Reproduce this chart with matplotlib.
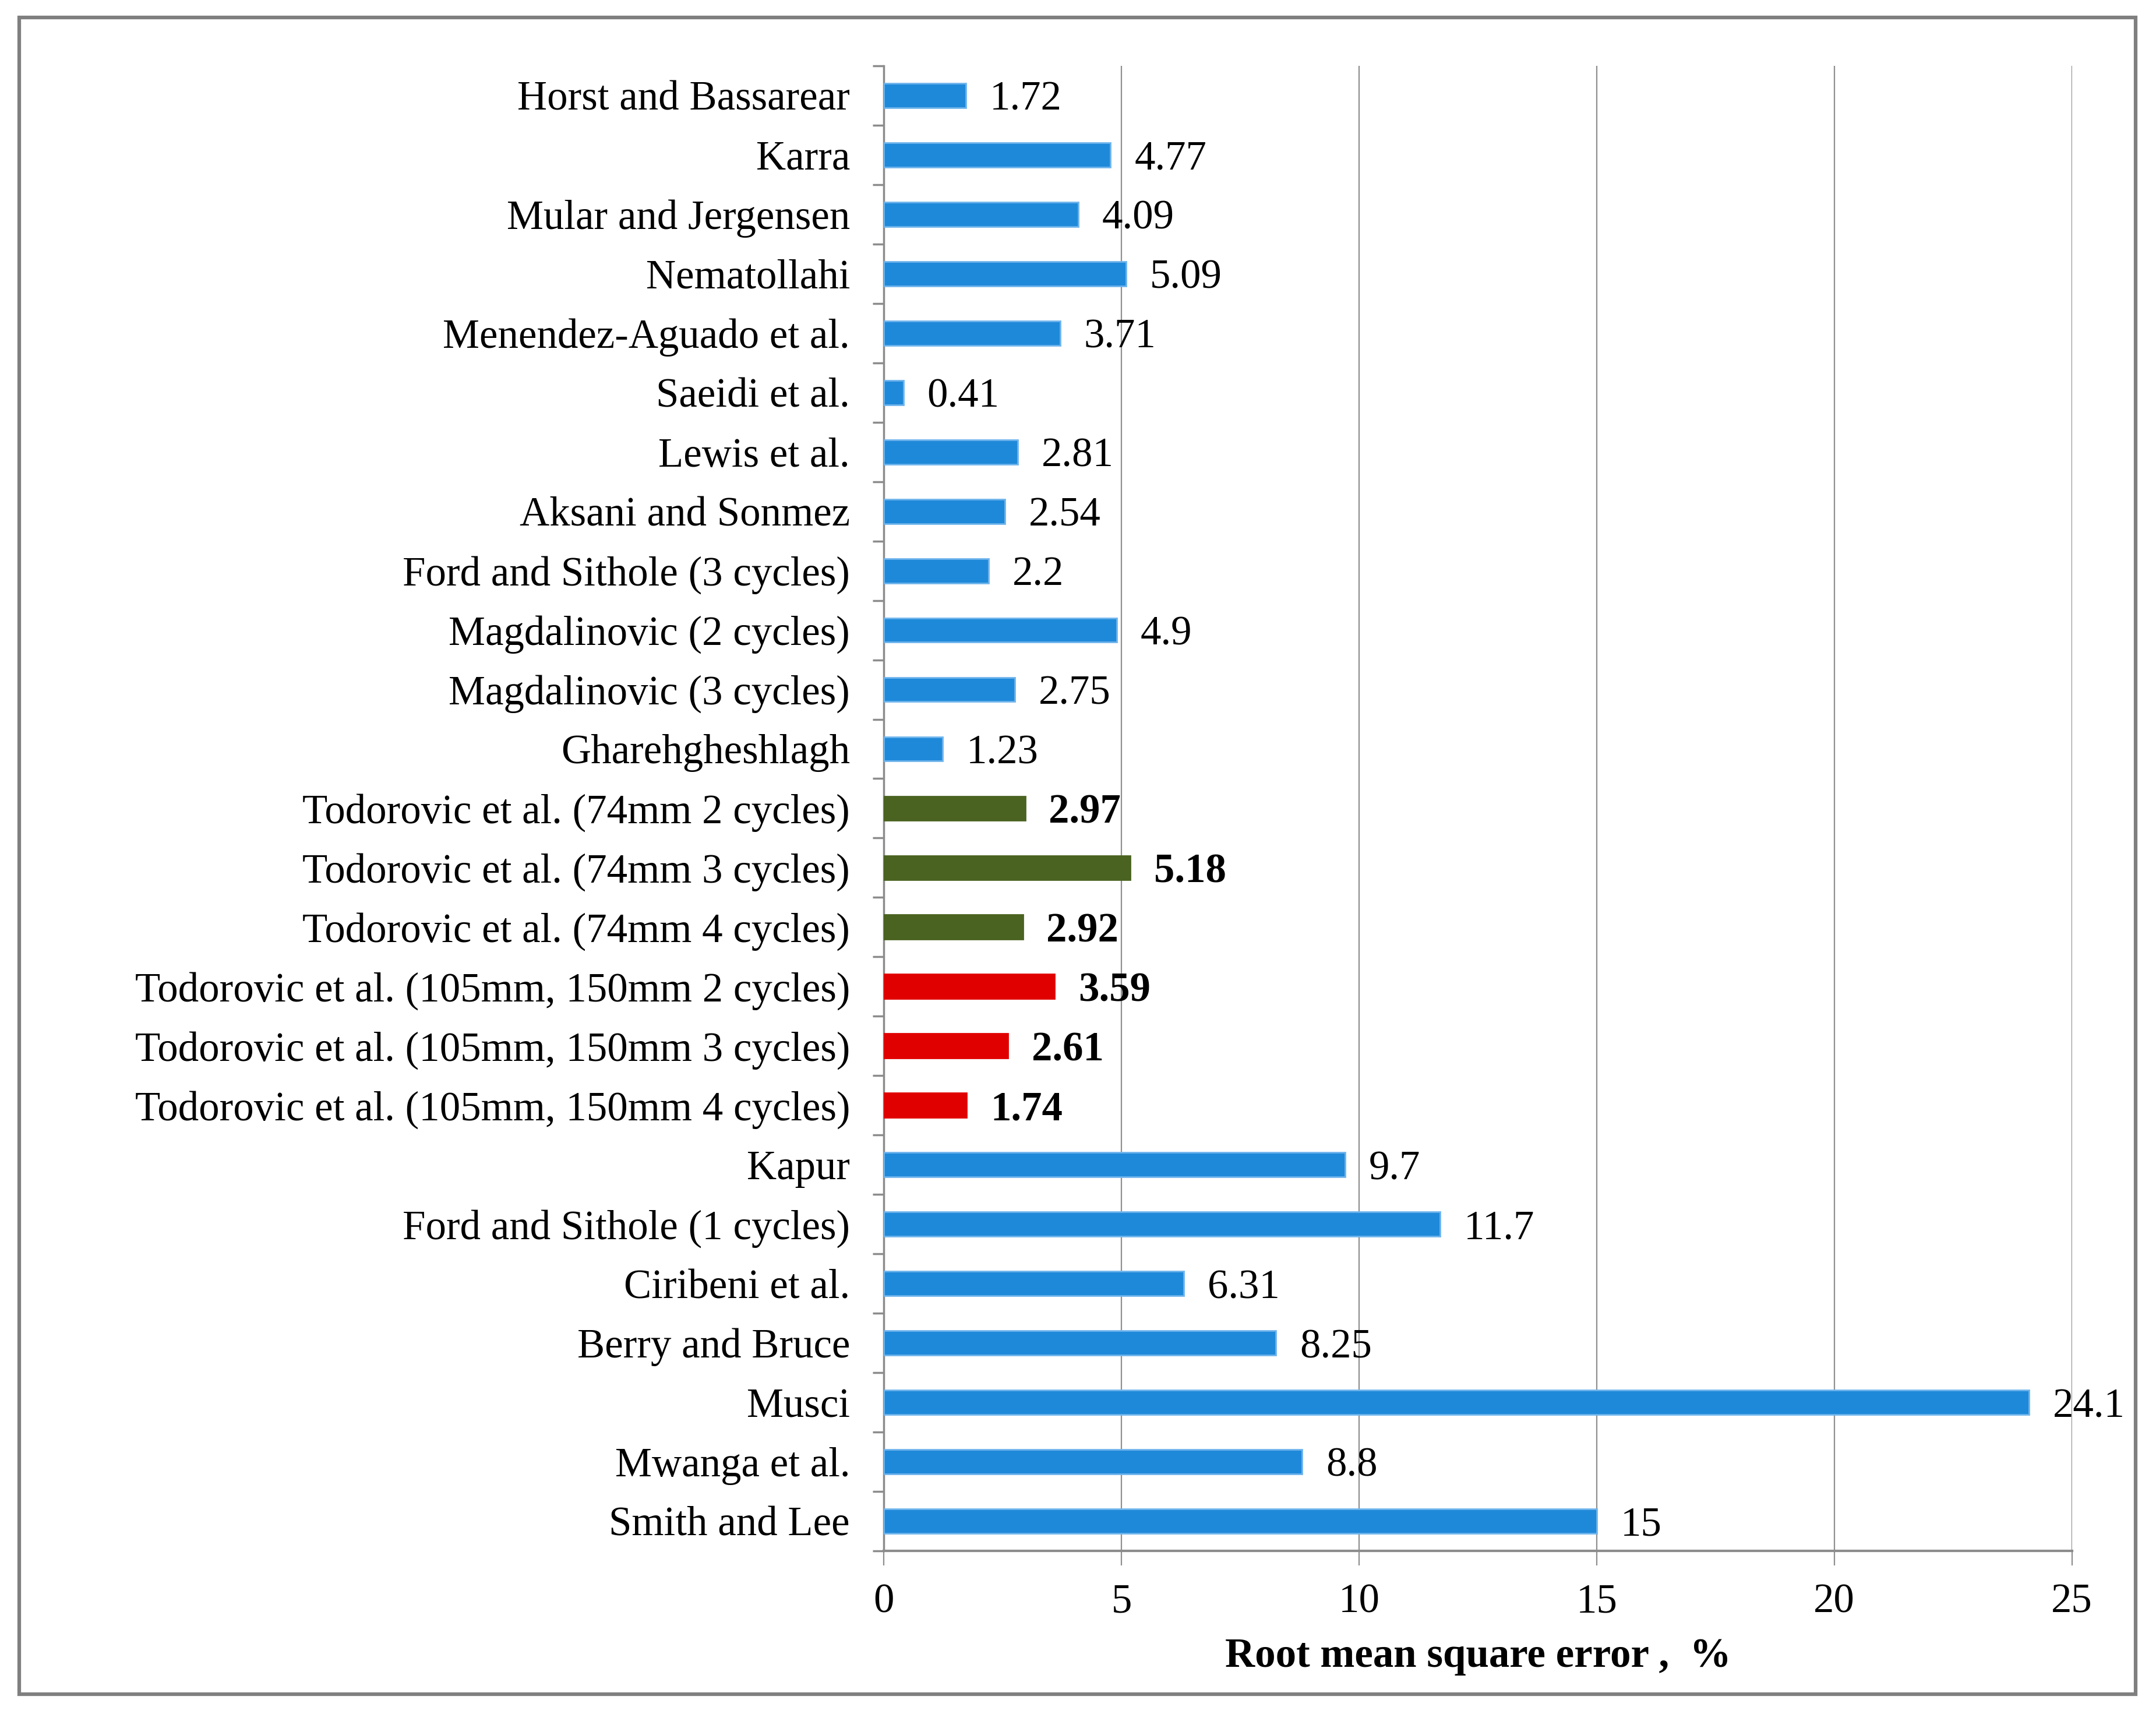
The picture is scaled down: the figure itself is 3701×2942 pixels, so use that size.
import matplotlib
matplotlib.use("Agg")
import matplotlib.pyplot as plt
from matplotlib.patches import Rectangle
import numpy as np

categories = [
    "Horst and Bassarear", "Karra", "Mular and Jergensen", "Nematollahi",
    "Menendez-Aguado et al.", "Saeidi et al.", "Lewis et al.", "Aksani and Sonmez",
    "Ford and Sithole (3 cycles)", "Magdalinovic (2 cycles)", "Magdalinovic (3 cycles)",
    "Gharehgheshlagh", "Todorovic et al. (74mm 2 cycles)", "Todorovic et al. (74mm 3 cycles)",
    "Todorovic et al. (74mm 4 cycles)", "Todorovic et al. (105mm, 150mm 2 cycles)",
    "Todorovic et al. (105mm, 150mm 3 cycles)", "Todorovic et al. (105mm, 150mm 4 cycles)",
    "Kapur", "Ford and Sithole (1 cycles)", "Ciribeni et al.", "Berry and Bruce",
    "Musci", "Mwanga et al.", "Smith and Lee",
]
values = [1.72, 4.77, 4.09, 5.09, 3.71, 0.41, 2.81, 2.54, 2.2, 4.9, 2.75, 1.23,
          2.97, 5.18, 2.92, 3.59, 2.61, 1.74, 9.7, 11.7, 6.31, 8.25, 24.1, 8.8, 15]
value_labels = ["1.72", "4.77", "4.09", "5.09", "3.71", "0.41", "2.81", "2.54", "2.2",
                "4.9", "2.75", "1.23", "2.97", "5.18", "2.92", "3.59", "2.61", "1.74",
                "9.7", "11.7", "6.31", "8.25", "24.1", "8.8", "15"]
groups = ["base"] * 12 + ["green"] * 3 + ["red"] * 3 + ["base"] * 7
x_ticks = [0, 5, 10, 15, 20, 25]
x_label = "Root mean square error ,  %"

colors = {"base": "#1F89D9", "green": "#4A6321", "red": "#E00000"}
edges = {"base": "#6FB4EC", "green": "#4A6321", "red": "#E00000"}

plt.rcParams['font.family'] = ['Liberation Serif', 'DejaVu Serif']
FS = 51

fig = plt.figure(figsize=(37.01, 29.42), dpi=100)
ax = fig.add_axes([0.410, 0.0952, 0.551, 0.8664])

n = len(categories)
ypos = np.arange(n)
bar_colors = [colors[g] for g in groups]
bar_edges = [edges[g] for g in groups]
ax.barh(ypos, values, height=0.41, color=bar_colors, edgecolor=bar_edges,
        linewidth=2, zorder=3)

for y, v, lab, g in zip(ypos, values, value_labels, groups):
    ax.text(v + 0.5, y, lab, va='center_baseline', ha='left', fontsize=FS,
            fontweight='bold' if g != "base" else 'normal', zorder=4)

ax.set_ylim(n - 0.5, -0.5)
ax.set_xlim(0, 25)
ax.set_yticks(ypos)
ax.set_yticklabels(categories, fontsize=FS)
ax.set_yticks(np.arange(n + 1) - 0.5, minor=True)
ax.tick_params(axis='y', which='major', length=0, pad=42)
ax.tick_params(axis='y', which='minor', length=14, width=2.5, color='#8C8C8C', direction='out')

ax.set_xticks(x_ticks)
ax.set_xticklabels([str(t) for t in x_ticks], fontsize=FS)
ax.tick_params(axis='x', which='major', length=18, width=1.6, color='#8F8F8F', pad=22)
ax.grid(axis='x', color='#8F8F8F', linewidth=1.6, zorder=0)
ax.set_axisbelow(True)

for s in ['top', 'right']:
    ax.spines[s].set_visible(False)
ax.spines['left'].set_color('#8C8C8C')
ax.spines['left'].set_linewidth(2.5)
ax.spines['bottom'].set_color('#8C8C8C')
ax.spines['bottom'].set_linewidth(3)

ax.set_xlabel(x_label, fontsize=FS, fontweight='bold', va='center')
ax.xaxis.set_label_coords(0.5, -0.0714)

fig.patches.append(Rectangle((33 / 3701, 1 - 2908 / 2942), (3666 - 33) / 3701,
                             (2908 - 30) / 2942, transform=fig.transFigure,
                             fill=False, edgecolor='#7F7F7F', linewidth=4.5))

fig.savefig("out.png", dpi=100, facecolor='white')
